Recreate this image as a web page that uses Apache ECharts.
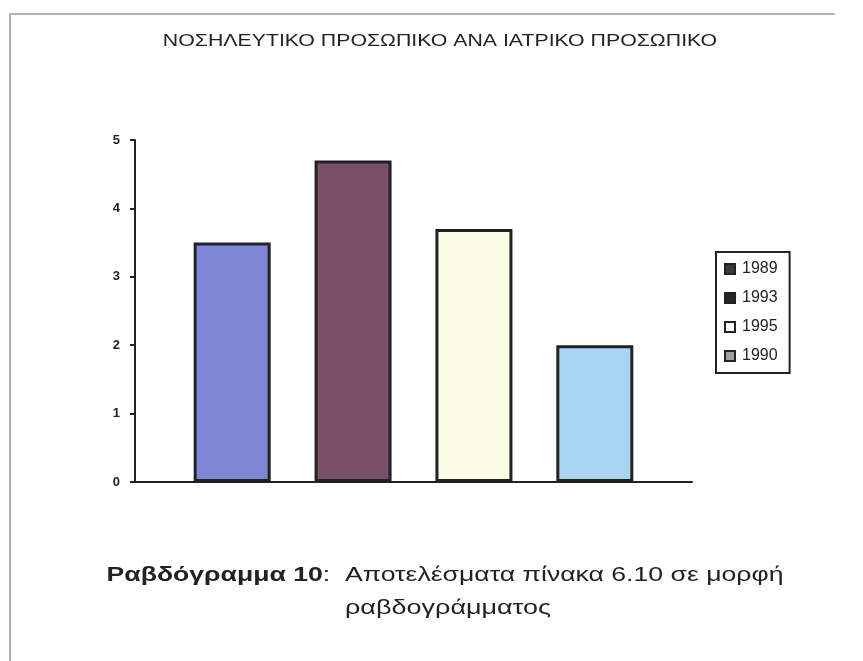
<!DOCTYPE html>
<html>
<head>
<meta charset="utf-8">
<script src="https://cdn.jsdelivr.net/npm/echarts@6/dist/echarts.min.js"></script>
<style>
html,body{margin:0;padding:0;background:#fff;}
#chart{width:863px;height:661px;}
</style>
</head>
<body>
<div id="chart"></div>
<script>
const titleText = 'ΝΟΣΗΛΕΥΤΙΚΟ ΠΡΟΣΩΠΙΚΟ ΑΝΑ ΙΑΤΡΙΚΟ ΠΡΟΣΩΠΙΚΟ';
const captionBold = 'Ραβδόγραμμα 10';
const captionRest = ':  Αποτελέσματα πίνακα 6.10 σε μορφή';
const captionLine2 = 'ραβδογράμματος';
const categories = [''];
const seriesNames = ['1989', '1993', '1995', '1990'];
const seriesValues = [3.5, 4.7, 3.7, 2.0];
const yTicks = [0, 1, 2, 3, 4, 5];

const barColors = ['#7f86d6', '#7a5069', '#fbfde6', '#a9d4f3'];
const legendFills = ['#3a3a3a', '#262626', '#ffffff', '#a0a0a0'];

const chart = echarts.init(document.getElementById('chart'));
const font = 'Liberation Sans, Arial, sans-serif';

const series = seriesNames.map((n, i) => ({
  name: n,
  type: 'bar',
  data: [seriesValues[i]],
  barWidth: 77,
  barGap: '57%',
  itemStyle: { color: barColors[i], borderColor: '#222', borderWidth: 3 },
  emphasis: { disabled: true },
  animation: false
}));

chart.setOption({
  animation: false,
  backgroundColor: '#ffffff',
  legend: {
    orient: 'vertical',
    left: 716,
    top: 252,
    padding: [9, 12, 9, 8],
    itemGap: 13,
    itemWidth: 10,
    itemHeight: 10,
    borderColor: '#222',
    borderWidth: 2,
    selectedMode: false,
    icon: 'rect',
    textStyle: { fontFamily: font, fontSize: 16, color: '#222', padding: [0, 0, 0, 2] },
    data: seriesNames.map((n, i) => ({
      name: n,
      itemStyle: { color: legendFills[i], borderColor: '#222', borderWidth: 2 }
    }))
  },
  grid: { left: 135, right: 171, top: 140, bottom: 179, containLabel: false },
  xAxis: {
    type: 'category',
    data: categories,
    axisLine: { show: true, lineStyle: { color: '#222', width: 2 } },
    axisTick: { show: false },
    axisLabel: { show: false },
    splitLine: { show: false }
  },
  yAxis: {
    type: 'value',
    min: yTicks[0],
    max: yTicks[yTicks.length - 1],
    interval: 1,
    axisLine: { show: true, lineStyle: { color: '#222', width: 2 } },
    axisTick: { show: true, length: 5, lineStyle: { color: '#222', width: 2 } },
    axisLabel: { fontFamily: font, fontSize: 13, fontWeight: 'bold', color: '#222', margin: 15 },
    splitLine: { show: false }
  },
  series: series,
  graphic: [
    {
      type: 'polyline',
      shape: { points: [[10, 661], [10, 14], [835, 14]] },
      style: { stroke: '#999', lineWidth: 1.5, fill: null },
      silent: true
    },
    {
      type: 'text',
      x: 440,
      y: 42,
      scaleX: 1.33,
      style: {
        text: titleText,
        fontFamily: font, fontSize: 16, fill: '#222',
        align: 'center', verticalAlign: 'middle'
      }
    },
    {
      type: 'text',
      x: 445,
      y: 575,
      scaleX: 1.33,
      style: {
        text: '{b|' + captionBold + '}{n|' + captionRest + '}',
        align: 'center', verticalAlign: 'middle',
        rich: {
          b: { fontFamily: font, fontSize: 20, fontWeight: 'bold', fill: '#222' },
          n: { fontFamily: font, fontSize: 20, fontWeight: 'normal', fill: '#222' }
        }
      }
    },
    {
      type: 'text',
      x: 448,
      y: 608,
      scaleX: 1.35,
      style: {
        text: captionLine2, fontFamily: font, fontSize: 20, fill: '#222',
        align: 'center', verticalAlign: 'middle'
      }
    }
  ]
});
</script>
</body>
</html>
